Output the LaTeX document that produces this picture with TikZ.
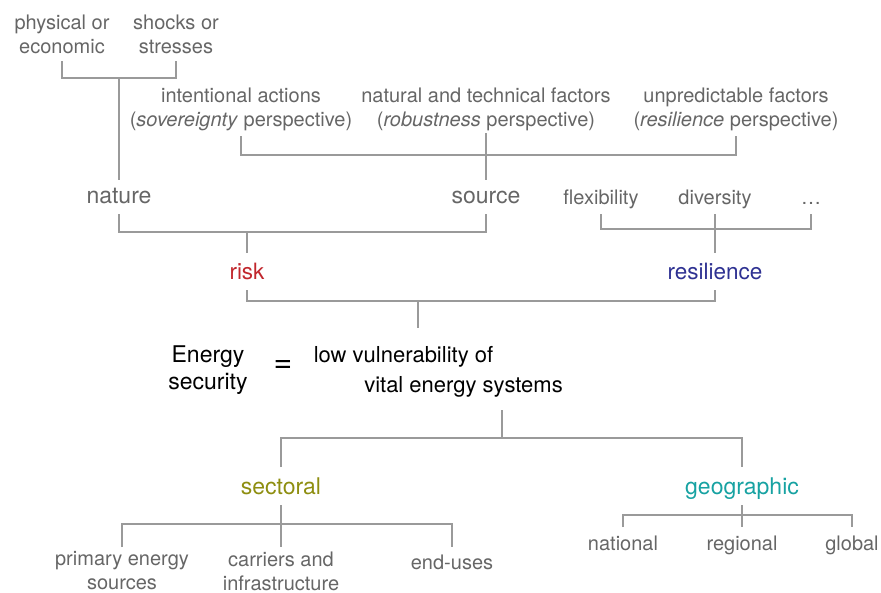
\documentclass[tikz,border=0pt]{standalone}
\usepackage{fontspec}
\setmainfont{TeX Gyre Heros}
\definecolor{txtgray}{HTML}{666666}
\definecolor{linegray}{HTML}{9A9A9A}
\definecolor{riskred}{HTML}{C1272D}
\definecolor{resblue}{HTML}{2E3192}
\definecolor{secolive}{HTML}{8E8E10}
\definecolor{geoteal}{HTML}{17A2A2}
\begin{document}
\begin{tikzpicture}[x=1pt,y=-1pt,
  lbl/.style={inner sep=0pt,text=txtgray,font=\fontsize{20}{24}\selectfont,align=center},
  one/.style={text height=0.72em,text depth=0.2em},
  big/.style={inner sep=0pt,font=\fontsize{23}{27}\selectfont,align=center,text height=0.72em,text depth=0.2em},
  conn/.style={draw=linegray,line width=1.4pt}]
\useasboundingbox (0,0) rectangle (881,592);
% top level
\node[lbl] (phys) at (62,34) {physical or\\economic};
\node[lbl] (shock) at (176,34) {shocks or\\stresses};
\node[lbl] (intent) at (241,109) {intentional actions\\(\textit{sovereignty} perspective)};
\node[lbl] (natural) at (486,109) {natural and technical factors\\(\textit{robustness} perspective)};
\node[lbl] (unpred) at (736,109) {unpredictable factors\\(\textit{resilience} perspective)};
\node[big,text=txtgray] (nature) at (119,201) {nature};
\node[big,text=txtgray] (source) at (486,201) {source};
\node[lbl,one] (flex) at (601,202) {flexibility};
\node[lbl,one] (div) at (715,202) {diversity};
\node[lbl,one] (dots) at (811,202) {…};
\node[big,text=riskred,font=\fontsize{22.5}{27}\selectfont] (risk) at (247,277) {risk};
\node[big,text=resblue,font=\fontsize{22.5}{27}\selectfont] (resil) at (715,277) {resilience};
% energy security
\node[inner sep=0pt,align=center,font=\fontsize{23}{27}\selectfont,text=black] (energy) at (208,370) {Energy\\security};
\node[inner sep=0pt,font=\fontsize{32}{34}\selectfont] (eq) at (283,366) {=};
\node[big,text=black,font=\fontsize{22}{26}\selectfont] (low1) at (403.5,360) {low vulnerability of};
\node[big,text=black,font=\fontsize{22}{26}\selectfont] (low2) at (463.5,390) {vital energy systems};
% lower level
\node[big,text=secolive] (sect) at (281,492) {sectoral};
\node[big,text=geoteal] (geo) at (742,492) {geographic};
\node[lbl] (primary) at (122,571) {primary energy\\sources};
\node[lbl] (carriers) at (281,571) {carriers and\\infrastructure};
\node[lbl,one] (enduse) at (452,567) {end-uses};
\node[lbl,one] (national) at (623,548) {national};
\node[lbl,one] (regional) at (742,548) {regional};
\node[lbl,one] (global) at (852,548) {global};
\coordinate (vul) at (418,328);
\coordinate (vulb) at (502,410);
% connectors
\draw[conn] (phys |- 0,61) -- (phys |- 0,78) -- (shock |- 0,78) -- (shock |- 0,61);
\draw[conn] (nature |- 0,78) -- (nature |- 0,180);
\draw[conn] (intent |- 0,136) -- (intent |- 0,155) -- (unpred |- 0,155) -- (unpred |- 0,136);
\draw[conn] (natural |- 0,133) -- (source |- 0,180);
\draw[conn] (nature |- 0,214) -- (nature |- 0,232) -- (source |- 0,232) -- (source |- 0,214);
\draw[conn] (risk |- 0,232) -- (risk |- 0,253);
\draw[conn] (flex |- 0,214) -- (flex |- 0,229) -- (dots |- 0,229) -- (dots |- 0,214);
\draw[conn] (div |- 0,214) -- (resil |- 0,253);
\draw[conn] (risk |- 0,290) -- (risk |- 0,301) -- (resil |- 0,301) -- (resil |- 0,290);
\draw[conn] (vul |- 0,301) -- (vul);
\draw[conn] (vulb) -- (vulb |- 0,438);
\draw[conn] (sect |- 0,467) -- (sect |- 0,438) -- (geo |- 0,438) -- (geo |- 0,467);
\draw[conn] (sect |- 0,505) -- (carriers |- 0,547);
\draw[conn] (primary |- 0,547) -- (primary |- 0,524) -- (enduse |- 0,524) -- (enduse |- 0,547);
\draw[conn] (geo |- 0,505) -- (regional |- 0,527);
\draw[conn] (national |- 0,527) -- (national |- 0,515) -- (global |- 0,515) -- (global |- 0,527);
\end{tikzpicture}
\end{document}
